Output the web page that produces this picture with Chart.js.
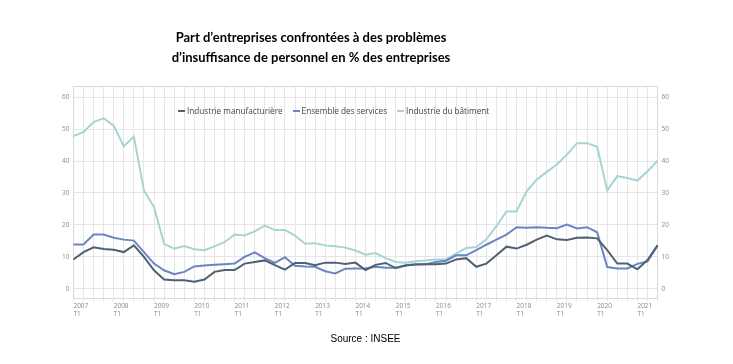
<!DOCTYPE html>
<html>
<head>
<meta charset="utf-8">
<script src="https://cdn.jsdelivr.net/npm/chart.js@4"></script>
<style>
  body { margin: 0; background: #fff; }
  #wrap { position: relative; width: 733px; height: 364px; }
  #titre {
    position: absolute; top: 27px; left: 0; width: 622px;
    text-align: center; font: bold 13px Lato, 'Open Sans', sans-serif;
    line-height: 20px; color: #000;
  }
  #legende {
    position: absolute; top: 105px; left: 178px;
    display: flex; font: 8.2px 'Open Sans', sans-serif; color: #444; white-space: nowrap;
  }
  #legende span.item { display: flex; align-items: center; margin-right: 10px; }
  #legende span.box { display: inline-block; width: 7px; height: 2px; margin-right: 2px; }
</style>
</head>
<body>
<div id="wrap">
  <div id="titre">Part d’entreprises confrontées à des problèmes<br>d’insuffisance de personnel en % des entreprises</div>
  <canvas id="chart" width="733" height="364"></canvas>
  <div id="legende"></div>
</div>
<script>
const years = ['2007', '2008', '2009', '2010', '2011', '2012', '2013', '2014', '2015', '2016', '2017', '2018', '2019', '2020', '2021'];
const quarters = ['T1', 'T2', 'T3', 'T4'];
const lastQuarter = '2021 T3';
const yTicks = [0, 10, 20, 30, 40, 50, 60];

const industrie = [9.2, 11.5, 13, 12.5, 12.2, 11.5, 13.6, 10, 5.8, 2.9, 2.7, 2.7, 2.2, 2.9, 5.3, 5.9, 5.9, 7.9, 8.4, 8.9,
  7.4, 6.0, 8.1, 8.1, 7.4, 8.2, 8.2, 7.8, 8.2, 5.9, 7.5, 8.1, 6.5, 7.3, 7.6, 7.7, 7.7, 7.9, 9.2, 9.6,
  6.9, 7.9, 10.5, 13.2, 12.6, 13.8, 15.4, 16.7, 15.5, 15.3, 16, 16.1, 15.8, 12.1, 7.9, 7.9, 6.1, 9.0, 13.6];
const services = [13.9, 13.9, 17, 17, 16, 15.4, 15.1, 11.5, 7.9, 5.8, 4.6, 5.3, 7.0, 7.3, 7.5, 7.7, 7.9, 10, 11.4, 9.6,
  8.1, 9.9, 7.2, 7.0, 6.9, 5.5, 4.8, 6.3, 6.4, 6.4, 6.9, 6.6, 6.6, 7.4, 7.7, 7.7, 8.4, 8.8, 10.5, 10.5,
  12.1, 13.8, 15.4, 17, 19.3, 19.1, 19.3, 19.1, 19, 20.1, 18.9, 19.3, 17.7, 6.8, 6.4, 6.4, 7.8, 8.6, 13.6];
const batiment = [47.8, 49.1, 52.2, 53.4, 51.1, 44.6, 47.7, 30.8, 25.6, 14.1, 12.6, 13.4, 12.4, 12.1, 13.3, 14.6, 17, 16.7, 18, 19.8,
  18.4, 18.4, 16.7, 14.1, 14.3, 13.6, 13.3, 12.9, 12, 10.7, 11.2, 9.6, 8.4, 8.2, 8.6, 8.9, 9.2, 9.2, 11, 12.8,
  13.1, 15.5, 19.6, 24.2, 24.2, 30.5, 34.2, 36.6, 38.9, 42, 45.6, 45.6, 44.5, 30.8, 35.3, 34.7, 33.9, 36.8, 40.1];

const labels = [];
years.forEach(y => quarters.forEach(q => labels.push(y + ' ' + q)));
labels.splice(labels.indexOf(lastQuarter) + 1);

const gridColor = '#e6e6e6';
const tickFont = { family: 'Open Sans', size: 6.5 };
const tickColor = '#8a8a8a';

// legende html, placee dans la zone du graphique comme sur l'original
const htmlLegend = {
  id: 'htmlLegend',
  afterUpdate(chart) {
    const box = document.getElementById('legende');
    box.innerHTML = '';
    chart.options.plugins.legend.labels.generateLabels(chart).forEach(item => {
      const el = document.createElement('span');
      el.className = 'item';
      const mark = document.createElement('span');
      mark.className = 'box';
      mark.style.background = item.strokeStyle;
      el.appendChild(mark);
      el.appendChild(document.createTextNode(item.text));
      box.appendChild(el);
    });
  }
};

const yAxis = (position) => ({
  position: position,
  min: -3,
  max: 63.5,
  afterBuildTicks: axis => { axis.ticks = yTicks.map(v => ({ value: v })); },
  grid: { display: position === 'left', color: gridColor, drawTicks: false },
  border: { display: true, color: '#d9d9d9' },
  ticks: { font: tickFont, color: tickColor, padding: 4 }
});

new Chart(document.getElementById('chart'), {
  type: 'line',
  data: {
    labels: labels,
    datasets: [
      { label: 'Industrie manufacturière', data: industrie, borderColor: '#4e6273', backgroundColor: '#4e6273', borderWidth: 2 },
      { label: 'Ensemble des services', data: services, borderColor: '#6d84c3', backgroundColor: '#6d84c3', borderWidth: 2 },
      { label: 'Industrie du bâtiment', data: batiment, borderColor: '#a6d4d4', backgroundColor: '#a6d4d4', borderWidth: 2 }
    ]
  },
  options: {
    responsive: false,
    animation: false,
    elements: { point: { radius: 0 }, line: { tension: 0 } },
    layout: { padding: { top: 86, left: 58, right: 60, bottom: 19 } },
    scales: {
      x: {
        grid: { color: gridColor, tickLength: 3 },
        border: { color: '#d9d9d9' },
        ticks: {
          autoSkip: false, maxRotation: 0, align: 'start', padding: 1,
          font: tickFont, color: tickColor,
          callback: function (v, i) {
            const parts = labels[i].split(' ');
            return parts[1] === 'T1' ? parts : '';
          }
        }
      },
      xTop: {
        type: 'category', position: 'top',
        grid: { display: false, drawTicks: false },
        border: { display: true, color: '#d9d9d9' },
        ticks: { display: false }
      },
      y: yAxis('left'),
      y2: yAxis('right')
    },
    plugins: {
      legend: { display: false },
      title: { display: false },
      subtitle: {
        display: true, position: 'bottom', text: 'Source : INSEE',
        font: { family: 'Liberation Sans', size: 10 }, color: '#000',
        padding: { top: 14, bottom: 0 }
      },
      tooltip: { enabled: false }
    }
  },
  plugins: [htmlLegend]
});
</script>
</body>
</html>
